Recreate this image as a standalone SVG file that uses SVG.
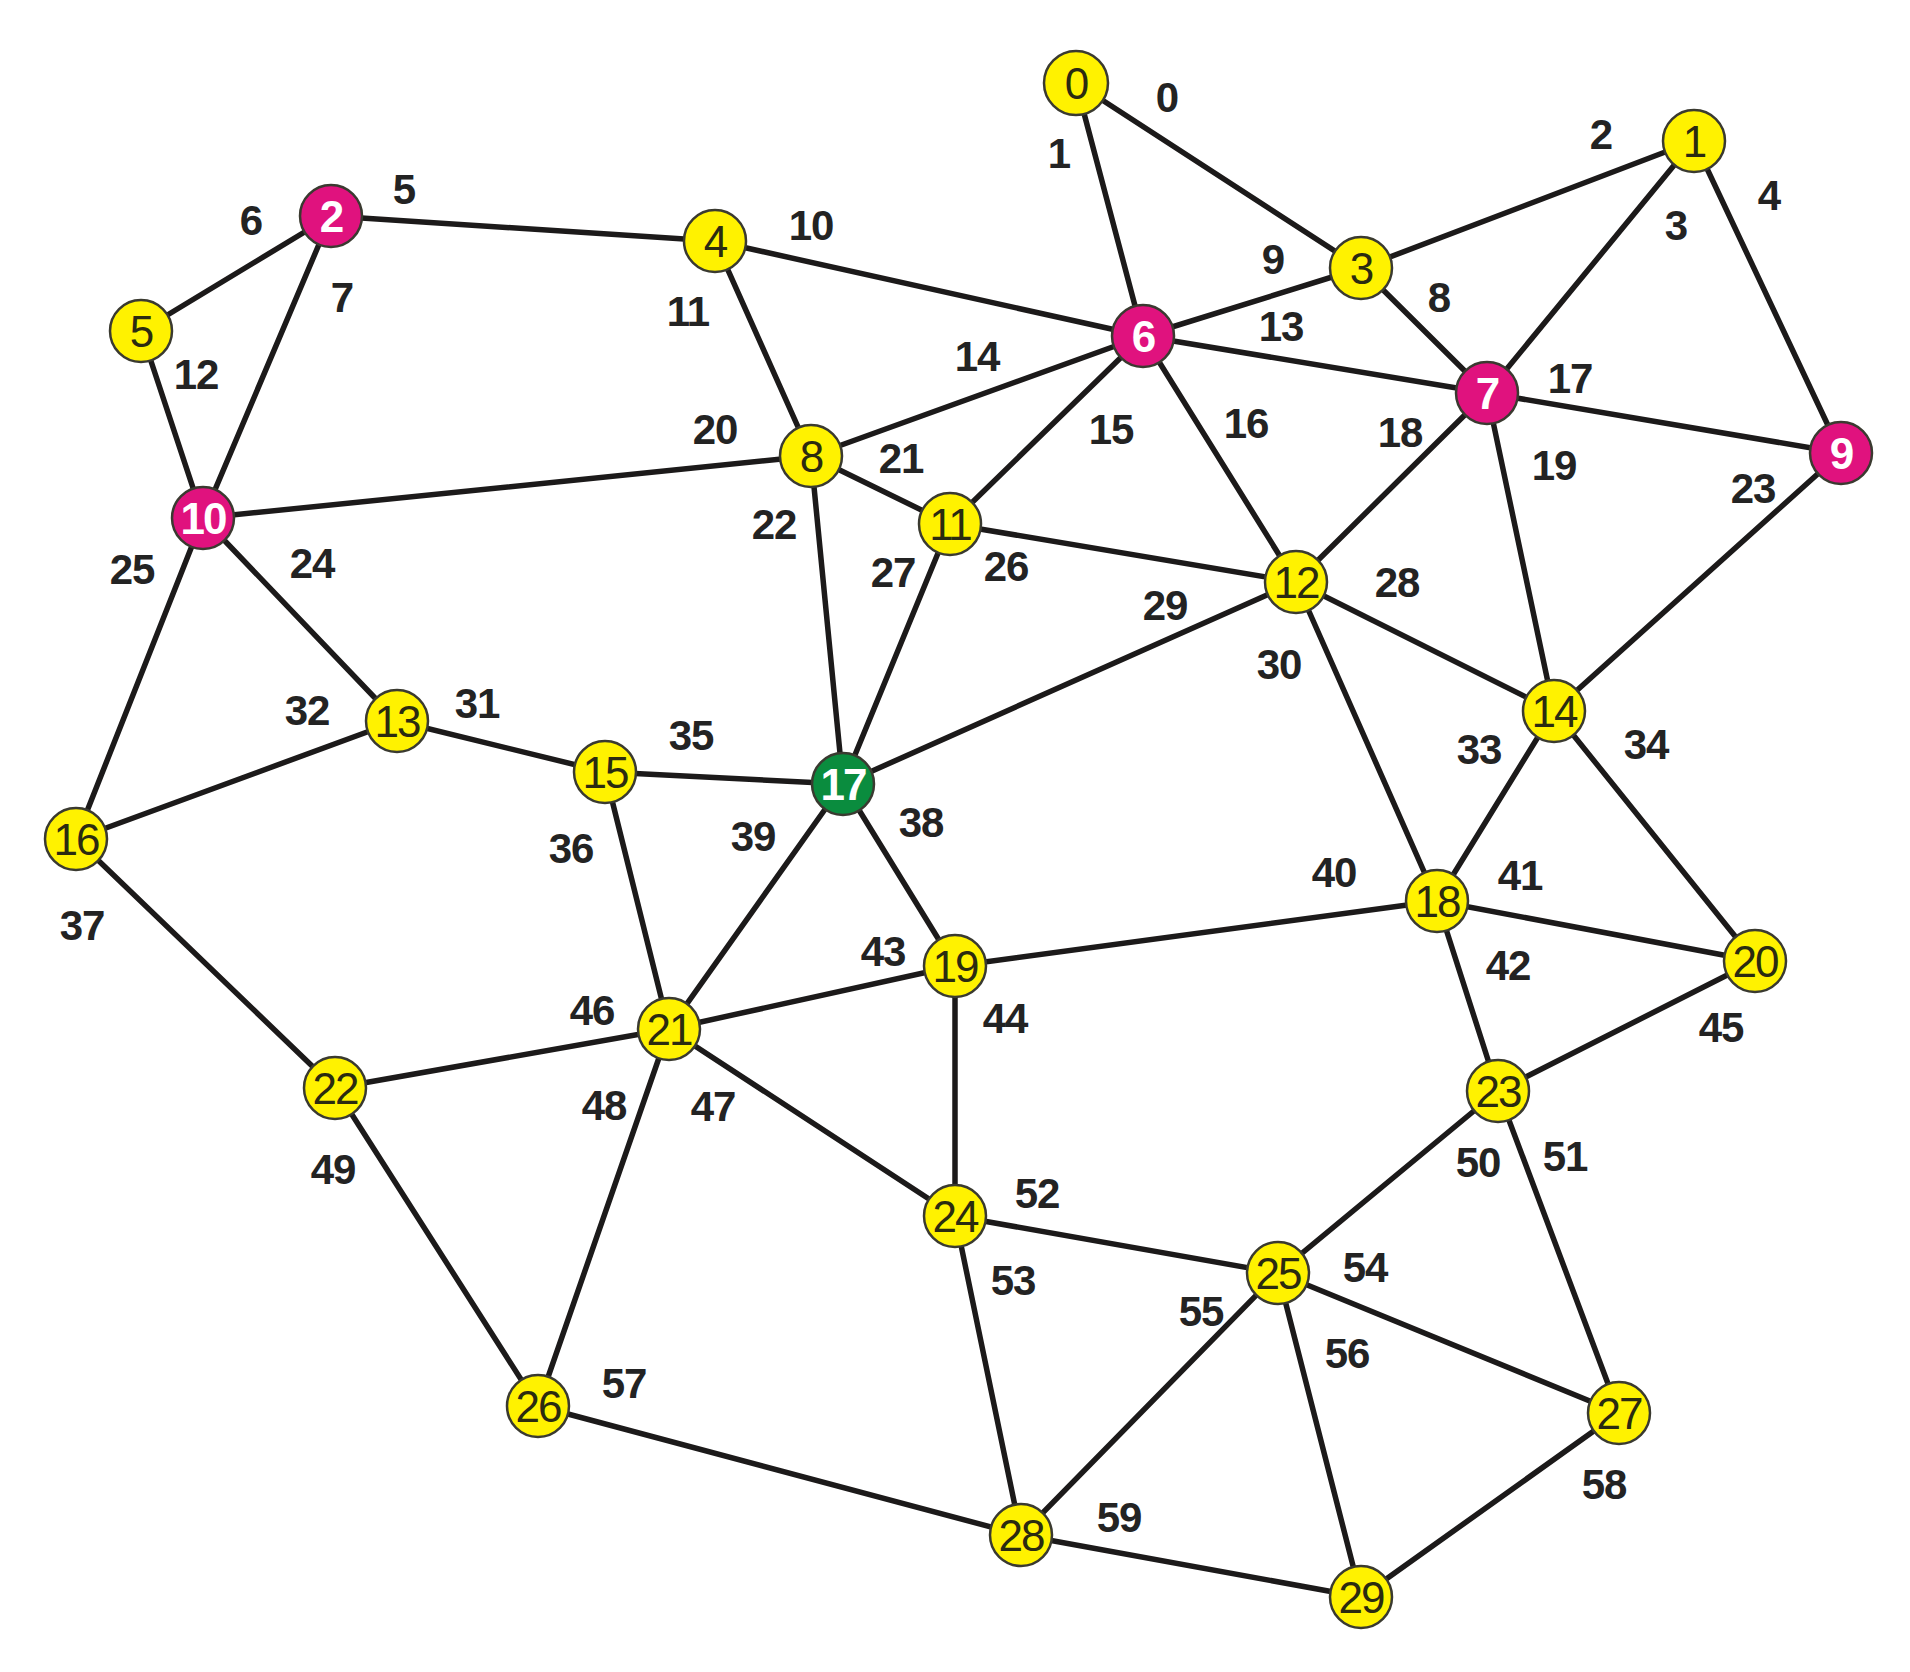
<svg xmlns="http://www.w3.org/2000/svg" width="1910" height="1672" viewBox="0 0 1910 1672">
<style>
.e{stroke:#1c1a1a;stroke-width:5.5;fill:none;stroke-linecap:round}
.n circle{stroke:#3a3a30;stroke-width:2.5}
.y circle{fill:#fff200}
.m circle{fill:#e0127e}
.g circle{fill:#0a8c3e}
.n text{font-family:"Liberation Sans",Arial,sans-serif;font-size:44px;letter-spacing:-2px;text-anchor:middle}
.y text{fill:#2b2b10}
.m text,.g text{fill:#ffffff;font-weight:bold}
.l{font-family:"Liberation Sans",Arial,sans-serif;font-size:42px;letter-spacing:-1px;font-weight:bold;fill:#232323;text-anchor:middle}
</style>
<rect width="1910" height="1672" fill="#ffffff"/>
<g id="edges">
<line class="e" x1="1076" y1="83" x2="1361" y2="268"/>
<line class="e" x1="1076" y1="83" x2="1143" y2="336"/>
<line class="e" x1="1361" y1="268" x2="1694" y2="141"/>
<line class="e" x1="1694" y1="141" x2="1487" y2="393"/>
<line class="e" x1="1694" y1="141" x2="1841" y2="453"/>
<line class="e" x1="331" y1="216" x2="715" y2="241"/>
<line class="e" x1="331" y1="216" x2="141" y2="331"/>
<line class="e" x1="331" y1="216" x2="203" y2="518"/>
<line class="e" x1="1361" y1="268" x2="1487" y2="393"/>
<line class="e" x1="1143" y1="336" x2="1361" y2="268"/>
<line class="e" x1="715" y1="241" x2="1143" y2="336"/>
<line class="e" x1="715" y1="241" x2="811" y2="456"/>
<line class="e" x1="141" y1="331" x2="203" y2="518"/>
<line class="e" x1="1143" y1="336" x2="1487" y2="393"/>
<line class="e" x1="811" y1="456" x2="1143" y2="336"/>
<line class="e" x1="1143" y1="336" x2="950" y2="524"/>
<line class="e" x1="1143" y1="336" x2="1296" y2="582"/>
<line class="e" x1="1487" y1="393" x2="1841" y2="453"/>
<line class="e" x1="1487" y1="393" x2="1296" y2="582"/>
<line class="e" x1="1487" y1="393" x2="1554" y2="711"/>
<line class="e" x1="203" y1="518" x2="811" y2="456"/>
<line class="e" x1="811" y1="456" x2="950" y2="524"/>
<line class="e" x1="811" y1="456" x2="843" y2="784"/>
<line class="e" x1="1841" y1="453" x2="1554" y2="711"/>
<line class="e" x1="203" y1="518" x2="397" y2="721"/>
<line class="e" x1="203" y1="518" x2="76" y2="839"/>
<line class="e" x1="950" y1="524" x2="1296" y2="582"/>
<line class="e" x1="950" y1="524" x2="843" y2="784"/>
<line class="e" x1="1296" y1="582" x2="1554" y2="711"/>
<line class="e" x1="1296" y1="582" x2="843" y2="784"/>
<line class="e" x1="1296" y1="582" x2="1437" y2="901"/>
<line class="e" x1="397" y1="721" x2="605" y2="772"/>
<line class="e" x1="397" y1="721" x2="76" y2="839"/>
<line class="e" x1="1554" y1="711" x2="1437" y2="901"/>
<line class="e" x1="1554" y1="711" x2="1755" y2="961"/>
<line class="e" x1="605" y1="772" x2="843" y2="784"/>
<line class="e" x1="605" y1="772" x2="669" y2="1029"/>
<line class="e" x1="76" y1="839" x2="335" y2="1088"/>
<line class="e" x1="843" y1="784" x2="955" y2="966"/>
<line class="e" x1="843" y1="784" x2="669" y2="1029"/>
<line class="e" x1="955" y1="966" x2="1437" y2="901"/>
<line class="e" x1="1437" y1="901" x2="1755" y2="961"/>
<line class="e" x1="1437" y1="901" x2="1498" y2="1091"/>
<line class="e" x1="669" y1="1029" x2="955" y2="966"/>
<line class="e" x1="955" y1="966" x2="955" y2="1216"/>
<line class="e" x1="1755" y1="961" x2="1498" y2="1091"/>
<line class="e" x1="335" y1="1088" x2="669" y2="1029"/>
<line class="e" x1="669" y1="1029" x2="955" y2="1216"/>
<line class="e" x1="669" y1="1029" x2="538" y2="1406"/>
<line class="e" x1="335" y1="1088" x2="538" y2="1406"/>
<line class="e" x1="1498" y1="1091" x2="1278" y2="1273"/>
<line class="e" x1="1498" y1="1091" x2="1619" y2="1413"/>
<line class="e" x1="955" y1="1216" x2="1278" y2="1273"/>
<line class="e" x1="955" y1="1216" x2="1021" y2="1535"/>
<line class="e" x1="1278" y1="1273" x2="1619" y2="1413"/>
<line class="e" x1="1278" y1="1273" x2="1021" y2="1535"/>
<line class="e" x1="1278" y1="1273" x2="1361" y2="1597"/>
<line class="e" x1="538" y1="1406" x2="1021" y2="1535"/>
<line class="e" x1="1619" y1="1413" x2="1361" y2="1597"/>
<line class="e" x1="1021" y1="1535" x2="1361" y2="1597"/>
</g>
<g id="edge-labels">
<text class="l" x="1167" y="112">0</text>
<text class="l" x="1059" y="168">1</text>
<text class="l" x="1601" y="149">2</text>
<text class="l" x="1676" y="240">3</text>
<text class="l" x="1769" y="210">4</text>
<text class="l" x="404" y="204">5</text>
<text class="l" x="251" y="235">6</text>
<text class="l" x="342" y="312">7</text>
<text class="l" x="1439" y="312">8</text>
<text class="l" x="1273" y="274">9</text>
<text class="l" x="811" y="240">10</text>
<text class="l" x="688" y="326">11</text>
<text class="l" x="196" y="389">12</text>
<text class="l" x="1281" y="341">13</text>
<text class="l" x="977" y="371">14</text>
<text class="l" x="1111" y="444">15</text>
<text class="l" x="1246" y="438">16</text>
<text class="l" x="1570" y="393">17</text>
<text class="l" x="1400" y="447">18</text>
<text class="l" x="1554" y="480">19</text>
<text class="l" x="715" y="444">20</text>
<text class="l" x="901" y="473">21</text>
<text class="l" x="774" y="539">22</text>
<text class="l" x="1753" y="503">23</text>
<text class="l" x="312" y="578">24</text>
<text class="l" x="132" y="584">25</text>
<text class="l" x="1006" y="581">26</text>
<text class="l" x="893" y="587">27</text>
<text class="l" x="1397" y="597">28</text>
<text class="l" x="1165" y="620">29</text>
<text class="l" x="1279" y="679">30</text>
<text class="l" x="477" y="718">31</text>
<text class="l" x="307" y="725">32</text>
<text class="l" x="1479" y="764">33</text>
<text class="l" x="1646" y="759">34</text>
<text class="l" x="691" y="750">35</text>
<text class="l" x="571" y="863">36</text>
<text class="l" x="82" y="940">37</text>
<text class="l" x="921" y="837">38</text>
<text class="l" x="753" y="851">39</text>
<text class="l" x="1334" y="887">40</text>
<text class="l" x="1520" y="890">41</text>
<text class="l" x="1508" y="980">42</text>
<text class="l" x="883" y="966">43</text>
<text class="l" x="1005" y="1033">44</text>
<text class="l" x="1721" y="1042">45</text>
<text class="l" x="592" y="1025">46</text>
<text class="l" x="713" y="1121">47</text>
<text class="l" x="604" y="1120">48</text>
<text class="l" x="333" y="1184">49</text>
<text class="l" x="1478" y="1177">50</text>
<text class="l" x="1565" y="1171">51</text>
<text class="l" x="1037" y="1208">52</text>
<text class="l" x="1013" y="1295">53</text>
<text class="l" x="1365" y="1282">54</text>
<text class="l" x="1201" y="1326">55</text>
<text class="l" x="1347" y="1368">56</text>
<text class="l" x="624" y="1398">57</text>
<text class="l" x="1604" y="1499">58</text>
<text class="l" x="1119" y="1532">59</text>
</g>
<g id="node0" class="n y"><circle cx="1076" cy="83" r="32"/><text x="1076" y="99">0</text></g>
<g id="node1" class="n y"><circle cx="1694" cy="141" r="31"/><text x="1694" y="157">1</text></g>
<g id="node2" class="n m"><circle cx="331" cy="216" r="31"/><text x="331" y="232">2</text></g>
<g id="node3" class="n y"><circle cx="1361" cy="268" r="31"/><text x="1361" y="284">3</text></g>
<g id="node4" class="n y"><circle cx="715" cy="241" r="31"/><text x="715" y="257">4</text></g>
<g id="node5" class="n y"><circle cx="141" cy="331" r="31"/><text x="141" y="347">5</text></g>
<g id="node6" class="n m"><circle cx="1143" cy="336" r="31"/><text x="1143" y="352">6</text></g>
<g id="node7" class="n m"><circle cx="1487" cy="393" r="31"/><text x="1487" y="409">7</text></g>
<g id="node8" class="n y"><circle cx="811" cy="456" r="31"/><text x="811" y="472">8</text></g>
<g id="node9" class="n m"><circle cx="1841" cy="453" r="31"/><text x="1841" y="469">9</text></g>
<g id="node10" class="n m"><circle cx="203" cy="518" r="31"/><text x="203" y="534">10</text></g>
<g id="node11" class="n y"><circle cx="950" cy="524" r="31"/><text x="950" y="540">11</text></g>
<g id="node12" class="n y"><circle cx="1296" cy="582" r="31"/><text x="1296" y="598">12</text></g>
<g id="node13" class="n y"><circle cx="397" cy="721" r="31"/><text x="397" y="737">13</text></g>
<g id="node14" class="n y"><circle cx="1554" cy="711" r="31"/><text x="1554" y="727">14</text></g>
<g id="node15" class="n y"><circle cx="605" cy="772" r="31"/><text x="605" y="788">15</text></g>
<g id="node16" class="n y"><circle cx="76" cy="839" r="31"/><text x="76" y="855">16</text></g>
<g id="node17" class="n g"><circle cx="843" cy="784" r="31"/><text x="843" y="800">17</text></g>
<g id="node18" class="n y"><circle cx="1437" cy="901" r="31"/><text x="1437" y="917">18</text></g>
<g id="node19" class="n y"><circle cx="955" cy="966" r="31"/><text x="955" y="982">19</text></g>
<g id="node20" class="n y"><circle cx="1755" cy="961" r="31"/><text x="1755" y="977">20</text></g>
<g id="node21" class="n y"><circle cx="669" cy="1029" r="31"/><text x="669" y="1045">21</text></g>
<g id="node22" class="n y"><circle cx="335" cy="1088" r="31"/><text x="335" y="1104">22</text></g>
<g id="node23" class="n y"><circle cx="1498" cy="1091" r="31"/><text x="1498" y="1107">23</text></g>
<g id="node24" class="n y"><circle cx="955" cy="1216" r="31"/><text x="955" y="1232">24</text></g>
<g id="node25" class="n y"><circle cx="1278" cy="1273" r="31"/><text x="1278" y="1289">25</text></g>
<g id="node26" class="n y"><circle cx="538" cy="1406" r="31"/><text x="538" y="1422">26</text></g>
<g id="node27" class="n y"><circle cx="1619" cy="1413" r="31"/><text x="1619" y="1429">27</text></g>
<g id="node28" class="n y"><circle cx="1021" cy="1535" r="31"/><text x="1021" y="1551">28</text></g>
<g id="node29" class="n y"><circle cx="1361" cy="1597" r="31"/><text x="1361" y="1613">29</text></g>
</svg>
